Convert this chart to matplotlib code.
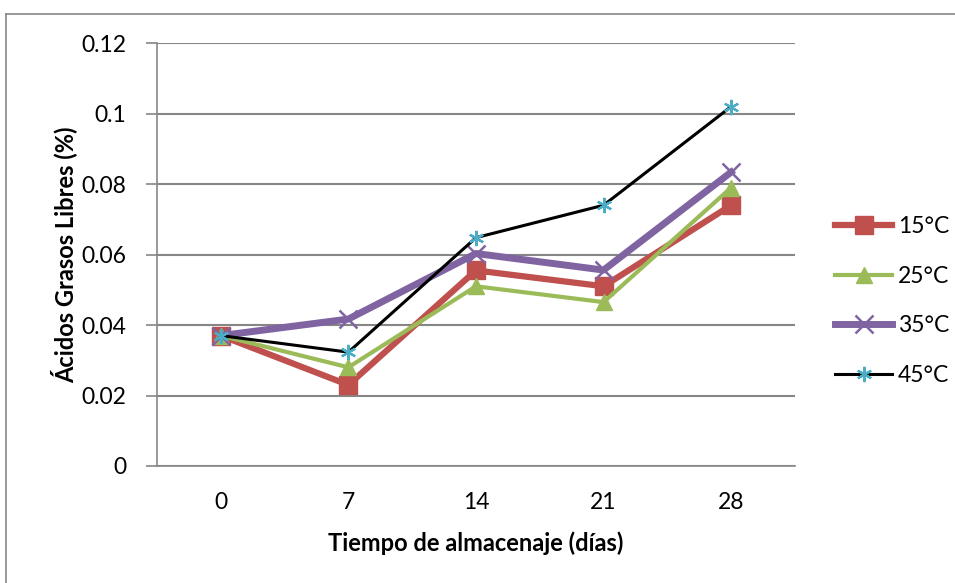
import matplotlib
matplotlib.use("Agg")
import matplotlib.pyplot as plt
from matplotlib.lines import Line2D

plt.rcParams['font.family'] = ['Lato', 'DejaVu Sans']

dias = ["0", "7", "14", "21", "28"]
t15 = [0.037, 0.023, 0.0555, 0.051, 0.074]
t25 = [0.037, 0.028, 0.051, 0.0465, 0.079]
t35 = [0.037, 0.0417, 0.0603, 0.0556, 0.0834]
t45 = [0.037, 0.0323, 0.0648, 0.074, 0.102]
yticks = [0, 0.02, 0.04, 0.06, 0.08, 0.1, 0.12]
ytick_labels = ["0", "0.02", "0.04", "0.06", "0.08", "0.1", "0.12"]

grid_col = "#868686"
fs = 16.5

fig = plt.figure(figsize=(9.55, 5.83), dpi=100)
ax = fig.add_axes([0.1644, 0.2007, 0.668, 0.7253])

x = list(range(len(dias)))
ax.plot(x, t15, color="#C0504D", lw=4.5, marker="s", ms=13,
        mfc="#C0504D", mec="#C0504D", label="15°C", zorder=3)
ax.plot(x, t25, color="#9BBB59", lw=3, marker="^", ms=11,
        mfc="#9BBB59", mec="#9BBB59", label="25°C", zorder=4)
ax.plot(x, t35, color="#8064A2", lw=5, marker="x", ms=13, mew=1.8,
        mec="#8064A2", label="35°C", zorder=5)
ax.plot(x, t45, color="black", lw=2.2, marker=(6, 2, 0), ms=11, mew=1.6,
        mec="#4BACC6", label="45°C", zorder=6)

ax.set_xlim(-0.5, 4.5)
ax.set_ylim(0, 0.12)
ax.set_xticks(x)
ax.set_xticklabels(dias, fontsize=fs)
ax.set_yticks(yticks)
ax.set_yticklabels(ytick_labels, fontsize=fs)
ax.tick_params(axis="x", length=0, pad=19)
ax.tick_params(axis="y", length=8, color=grid_col, width=1.2, pad=14)

ax.grid(axis="y", color=grid_col, lw=1.5)
ax.set_axisbelow(True)
for side in ("top", "right"):
    ax.spines[side].set_visible(False)
for side in ("left", "bottom"):
    ax.spines[side].set_color(grid_col)
    ax.spines[side].set_linewidth(1.2)

ax.set_xlabel("Tiempo de almacenaje (días)", fontsize=17, fontweight="bold",
              labelpad=13)
ax.set_ylabel("Ácidos Grasos Libres (%)", fontsize=17, fontweight="bold",
              labelpad=3)

ax.legend(loc="center left", bbox_to_anchor=(1.063, 0.39), frameon=False,
          fontsize=fs, handlelength=2.5, labelspacing=1.25, handletextpad=0.25,
          borderaxespad=0, borderpad=0)

# chart area border (left and top edges visible)
fig.add_artist(Line2D([6 / 955, 6 / 955], [0, 1 - 14 / 583],
                      transform=fig.transFigure, color=grid_col, lw=1.2))
fig.add_artist(Line2D([6 / 955, 1], [1 - 14 / 583, 1 - 14 / 583],
                      transform=fig.transFigure, color=grid_col, lw=1.2))

fig.savefig("out.png", dpi=100)
